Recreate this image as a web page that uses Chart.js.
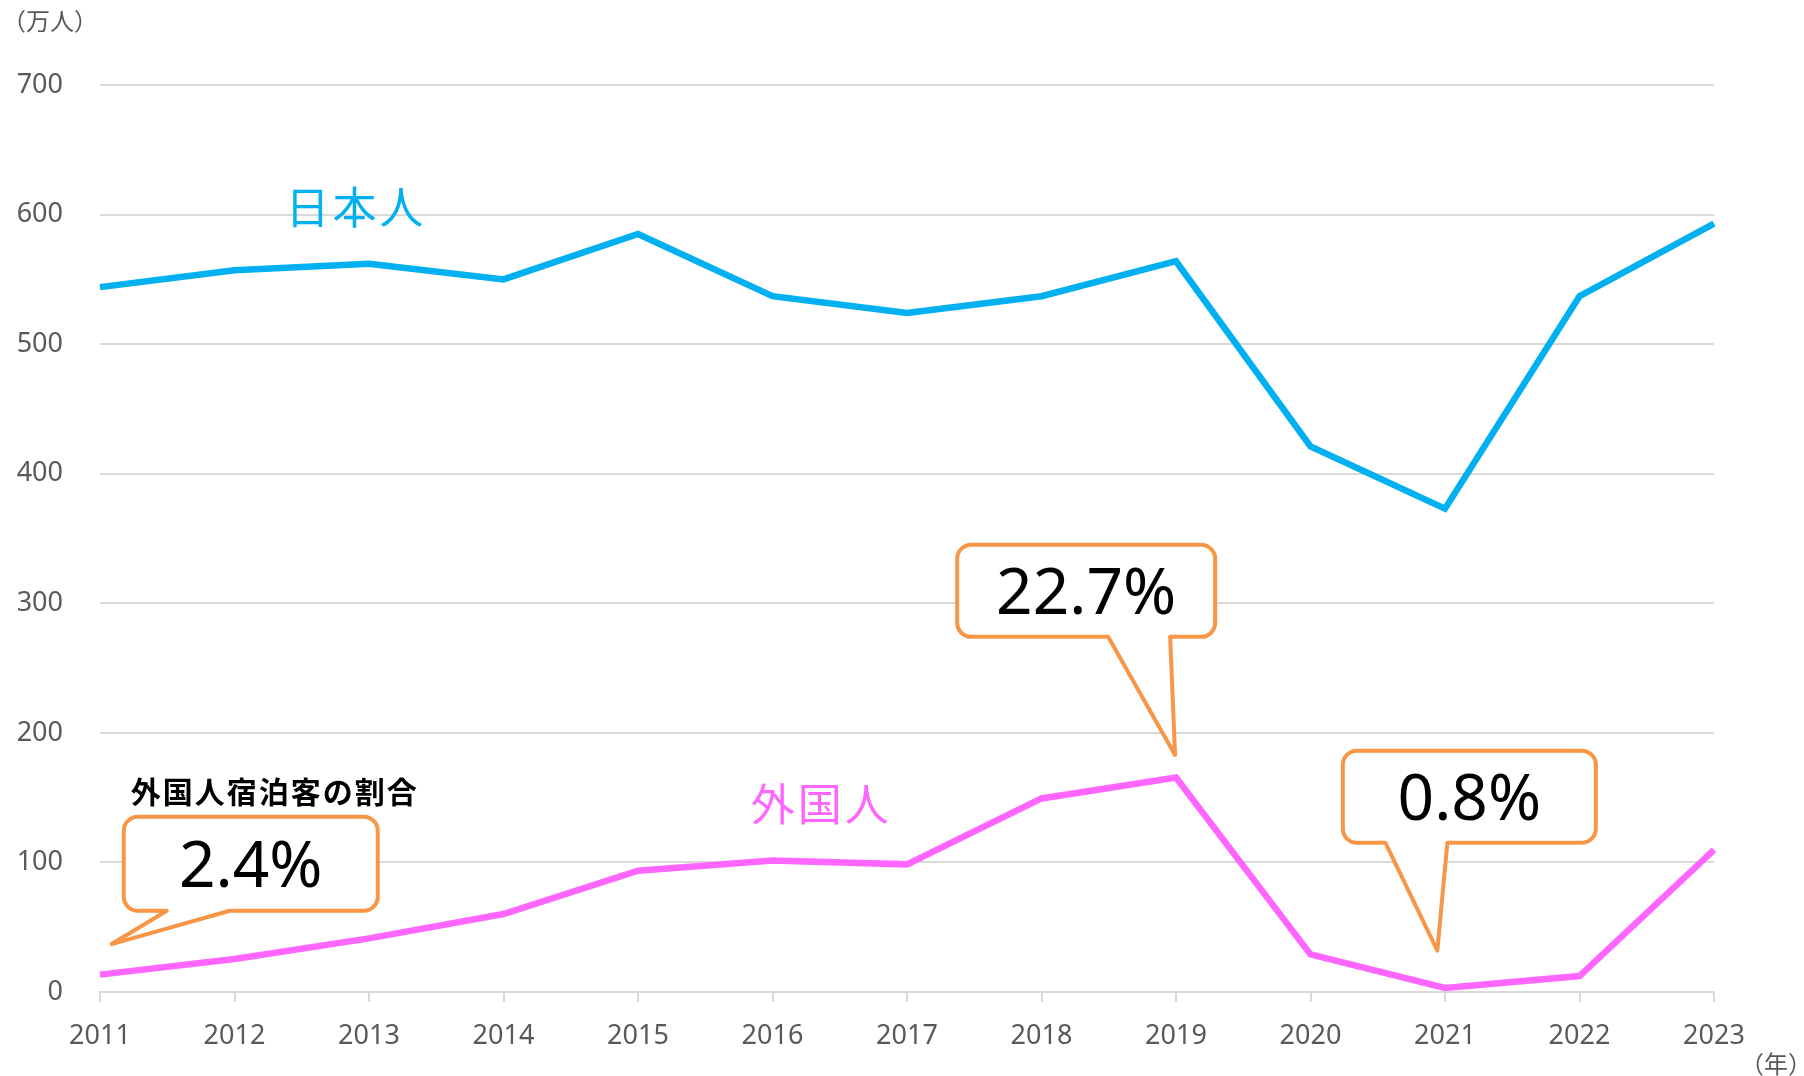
<!DOCTYPE html>
<html lang="ja">
<head>
<meta charset="UTF-8">
<title>宿泊客数の推移</title>
<script src="https://cdn.jsdelivr.net/npm/chart.js@4.4.1/dist/chart.umd.min.js"></script>
<style>
  body { margin: 0; background: #fff; }
  #wrap { width: 1804px; height: 1076px; }
</style>
</head>
<body>
<div id="wrap"><canvas id="stayChart"></canvas></div>
<script>
// DATA (万人)
const years = ["2011", "2012", "2013", "2014", "2015", "2016", "2017", "2018", "2019", "2020", "2021", "2022", "2023"];
const japanese = [544, 557, 562, 550, 585, 537, 524, 537, 564, 421, 373, 537, 593];
const foreign = [13.4, 25.5, 41.4, 60.2, 93.6, 101.4, 98.5, 149.4, 165.5, 29, 3.1, 12.3, 109.6];
const yTicks = [0, 100, 200, 300, 400, 500, 600, 700];
const shareLabels = ["2.4%", "22.7%", "0.8%"];

const BLUE = "#00B0F0";
const PINK = "#FF66FF";
const ORANGE = "#F79646";
const GRID = "#D9D9D9";
const TEXT = "#595959";

// callout boxes: centre and tip in data space (x = year index, y = 万人)
const callouts = [
    { text: shareLabels[0], at: [1.121, 99.0], w: 254, h: 94, tip: [0.087, 37.0], base: [-84, -21] },
    { text: shareLabels[1], at: [7.332, 309.6], w: 258, h: 92, tip: [7.993, 182.9], base: [22, 84] },
    { text: shareLabels[2], at: [10.181, 150.7], w: 253, h: 92, tip: [9.943, 31.9], base: [-84, -22] }
];

const seriesTags = [
    { text: "日本人", at: [1.903, 606], color: BLUE },
    { text: "外国人", at: [5.363, 145], color: PINK }
];

// DRAW CALLOUT (rounded box with a tail on the bottom edge)
function drawCallout(ctx, cx, cy, w, h, tipX, tipY, baseA, baseB, text) {
    const r = 14;
    const left = cx - w / 2, right = cx + w / 2;
    const top = cy - h / 2, bottom = cy + h / 2;

    ctx.beginPath();
    ctx.moveTo(left + r, top);
    ctx.lineTo(right - r, top);
    ctx.arcTo(right, top, right, top + r, r);
    ctx.lineTo(right, bottom - r);
    ctx.arcTo(right, bottom, right - r, bottom, r);
    ctx.lineTo(baseB, bottom);
    ctx.lineTo(tipX, tipY);
    ctx.lineTo(baseA, bottom);
    ctx.lineTo(left + r, bottom);
    ctx.arcTo(left, bottom, left, bottom - r, r);
    ctx.lineTo(left, top + r);
    ctx.arcTo(left, top, left + r, top, r);
    ctx.closePath();

    ctx.fillStyle = "#fff";
    ctx.fill();
    ctx.lineWidth = 4;
    ctx.lineJoin = "round";
    ctx.strokeStyle = ORANGE;
    ctx.stroke();

    ctx.fillStyle = "#000";
    ctx.font = "64px 'Noto Sans'";
    ctx.textAlign = "center";
    ctx.textBaseline = "alphabetic";
    ctx.fillText(text, cx, cy + 23);
}

const annotationPlugin = {
    id: "annotationPlugin",
    afterDraw(chart) {
        const ctx = chart.ctx;
        const xs = chart.scales.x;
        const ys = chart.scales.y;

        ctx.save();

        // unit labels
        ctx.fillStyle = TEXT;
        ctx.font = "24px 'Noto Sans CJK JP'";
        ctx.textAlign = "left";
        ctx.textBaseline = "middle";
        ctx.fillText("（万人）", 2, 21);
        ctx.fillText("（年）", 1740, 1064);

        // series names
        ctx.textAlign = "center";
        ctx.letterSpacing = "3px";
        ctx.font = "44px 'Noto Sans CJK JP'";
        seriesTags.forEach(t => {
            ctx.fillStyle = t.color;
            ctx.fillText(t.text, xs.getPixelForValue(t.at[0]), ys.getPixelForValue(t.at[1]));
        });

        // caption above the first callout
        ctx.letterSpacing = "2px";
        ctx.fillStyle = "#000";
        ctx.font = "bold 30px 'Noto Sans CJK JP'";
        ctx.fillText("外国人宿泊客の割合", xs.getPixelForValue(1.30), ys.getPixelForValue(155));
        ctx.letterSpacing = "0px";

        // share callouts
        callouts.forEach(c => {
            const cx = xs.getPixelForValue(c.at[0]);
            const cy = ys.getPixelForValue(c.at[1]);
            drawCallout(ctx, cx, cy, c.w, c.h,
                xs.getPixelForValue(c.tip[0]), ys.getPixelForValue(c.tip[1]),
                cx + c.base[0], cx + c.base[1], c.text);
        });

        ctx.restore();
    }
};

const tickFont = { family: "'Noto Sans', sans-serif", size: 27 };

new Chart(document.getElementById("stayChart"), {
    type: "line",
    data: {
        labels: years,
        datasets: [
            {
                label: "日本人",
                data: japanese,
                borderColor: BLUE,
                borderWidth: 6.5,
                pointRadius: 0,
                tension: 0
            },
            {
                label: "外国人",
                data: foreign,
                borderColor: PINK,
                borderWidth: 6.5,
                pointRadius: 0,
                tension: 0
            }
        ]
    },
    options: {
        responsive: true,
        maintainAspectRatio: false,
        animation: false,
        layout: {
            padding: { top: 85, right: 90, left: 0, bottom: 0 }
        },
        plugins: {
            legend: { display: false },
            tooltip: { enabled: false }
        },
        scales: {
            x: {
                offset: false,
                grid: {
                    display: true,
                    drawOnChartArea: false,
                    drawTicks: true,
                    tickLength: 10,
                    color: GRID,
                    lineWidth: 2
                },
                border: { display: true, color: GRID, width: 2 },
                ticks: {
                    color: TEXT,
                    font: tickFont,
                    padding: 18,
                    maxRotation: 0,
                    autoSkip: false
                },
                afterFit(scale) { scale.height = 84; }
            },
            y: {
                min: 0,
                max: 700,
                grid: {
                    color: GRID,
                    lineWidth: 2,
                    drawTicks: false
                },
                border: { display: false },
                ticks: {
                    stepSize: 100,
                    color: TEXT,
                    font: tickFont,
                    padding: 37,
                    callback: v => yTicks.includes(v) ? String(v) : ""
                },
                afterFit(scale) { scale.width = 100; }
            }
        }
    },
    plugins: [annotationPlugin]
});
</script>
</body>
</html>
